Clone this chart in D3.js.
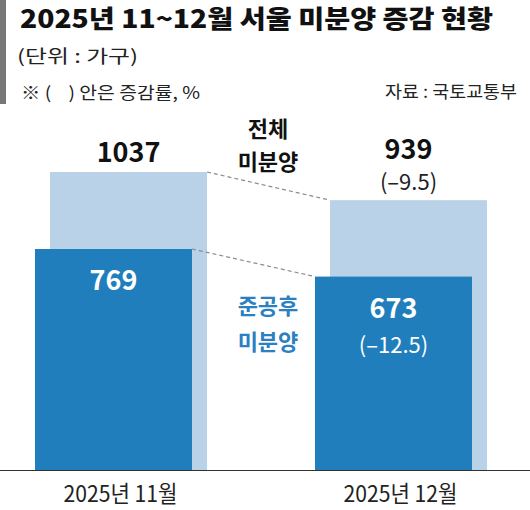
<!DOCTYPE html>
<html>
<head>
<meta charset="utf-8">
<script src="https://cdn.jsdelivr.net/npm/d3@7"></script>
<style>
  html, body { margin: 0; padding: 0; background: #fff; }
  svg { display: block; }
  text { font-family: "Liberation Sans Narrow", "Noto Sans CJK KR", sans-serif; }
  .kr { font-family: "Noto Sans CJK KR", sans-serif; }
</style>
</head>
<body>
<svg id="chart" width="530" height="510"></svg>
<script>
"use strict";

// data
var months = ["2025년 11월", "2025년 12월"];
var total = [1037, 939];          // 전체 미분양
var completed = [769, 673];       // 준공후 미분양
var totalChange = [null, "(–9.5)"];
var completedChange = [null, "(–12.5)"];

var W = 530, H = 510;
var base = 470;
var barW = 157;
var lightOff = 15;

var svg = d3.select('#chart');

var x = d3.scalePoint()
	.domain(months)
	.range([113.5, 393.5]);

var y = d3.scaleLinear()
	.domain([0, d3.max(total)])
	.range([base, 172]);

// header
svg.append('rect').attr('x', 0).attr('y', 0).attr('width', 6).attr('height', 104).attr('fill', '#777');

svg.append('text')
	.attr('class', 'kr')
	.attr('x', 20).attr('y', 28)
	.attr('font-size', 25).attr('font-weight', 900).attr('fill', '#111')
	.attr('textLength', 473).attr('lengthAdjust', 'spacingAndGlyphs')
	.text('2025년 11~12월 서울 미분양 증감 현황');

svg.append('text')
	.attr('class', 'kr')
	.attr('x', 17).attr('y', 63)
	.attr('font-size', 18).attr('fill', '#222')
	.attr('textLength', 121).attr('lengthAdjust', 'spacingAndGlyphs')
	.text('(단위 : 가구)');

svg.append('text')
	.attr('class', 'kr')
	.attr('x', 21).attr('y', 99)
	.attr('font-size', 17).attr('fill', '#222')
	.style('white-space', 'pre')
	.attr('textLength', 179).attr('lengthAdjust', 'spacingAndGlyphs')
	.text('※ (    ) 안은 증감률, %');

svg.append('text')
	.attr('class', 'kr')
	.attr('x', 517).attr('y', 98)
	.attr('text-anchor', 'end')
	.attr('font-size', 17).attr('fill', '#222')
	.attr('textLength', 132).attr('lengthAdjust', 'spacingAndGlyphs')
	.text('자료 : 국토교통부');

// bars
var rows = months.map(function(m, i){
	return {m: m, total: total[i], comp: completed[i], tc: totalChange[i], cc: completedChange[i]};
});

svg.selectAll('.light').data(rows).enter().append('rect')
	.attr('class', 'light')
	.attr('x', function(d){ return x(d.m) + lightOff - barW/2; })
	.attr('y', function(d){ return y(d.total); })
	.attr('width', barW)
	.attr('height', function(d){ return base - y(d.total); })
	.attr('fill', '#b9d2e7');

svg.selectAll('.dark').data(rows).enter().append('rect')
	.attr('class', 'dark')
	.attr('x', function(d){ return x(d.m) - barW/2; })
	.attr('y', function(d){ return y(d.comp); })
	.attr('width', barW)
	.attr('height', function(d){ return base - y(d.comp); })
	.attr('fill', '#1f7ebb');

// dashed connectors
function connector(key, off) {
	svg.append('line')
		.attr('x1', x(months[0]) + off + barW/2).attr('y1', y(rows[0][key]))
		.attr('x2', x(months[1]) + off - barW/2).attr('y2', y(rows[1][key]))
		.attr('stroke', '#8c8c8c').attr('stroke-width', 1.2)
		.attr('stroke-dasharray', '4,3');
}
connector('total', lightOff);
connector('comp', 0);

// axis baseline + labels
svg.append('line')
	.attr('x1', 0).attr('x2', W).attr('y1', base + 0.5).attr('y2', base + 0.5)
	.attr('stroke', '#333').attr('stroke-width', 1);

svg.selectAll('.xlab').data(months).enter().append('text')
	.attr('class', 'xlab')
	.attr('x', function(d){ return x(d) + 7; })
	.attr('y', 502)
	.attr('text-anchor', 'middle')
	.attr('font-size', 23).attr('fill', '#222')
	.attr('textLength', 114).attr('lengthAdjust', 'spacingAndGlyphs')
	.text(function(d){ return d; });

// value labels: total
rows.forEach(function(d){
	var cx = x(d.m) + lightOff;
	var top = y(d.total);
	if (d.tc) {
		svg.append('text').attr('x', cx).attr('y', top - 41).attr('text-anchor', 'middle')
			.attr('font-size', 27).attr('font-weight', 700).attr('fill', '#111').text(d.total);
		svg.append('text').attr('x', cx).attr('y', top - 10).attr('text-anchor', 'middle')
			.attr('font-size', 22).attr('fill', '#222').text(d.tc);
	} else {
		svg.append('text').attr('x', cx).attr('y', top - 10).attr('text-anchor', 'middle')
			.attr('font-size', 27).attr('font-weight', 700).attr('fill', '#111').text(d.total);
	}
});

// value labels: completed (inside dark bars)
rows.forEach(function(d){
	var cx = x(d.m);
	var top = y(d.comp);
	svg.append('text').attr('x', cx).attr('y', top + 41).attr('text-anchor', 'middle')
		.attr('font-size', 27).attr('font-weight', 700).attr('fill', '#fff').text(d.comp);
	if (d.cc) {
		svg.append('text').attr('x', cx).attr('y', top + 76).attr('text-anchor', 'middle')
			.attr('font-size', 22).attr('fill', '#fff').text(d.cc);
	}
});

// series names in the gap
var midX = 268;
[['전체', 137], ['미분양', 170]].forEach(function(t){
	svg.append('text').attr('class', 'kr').attr('x', midX).attr('y', t[1])
		.attr('text-anchor', 'middle').attr('font-size', 22).attr('font-weight', 700)
		.attr('fill', '#111').text(t[0]);
});
[['준공후', 314], ['미분양', 350]].forEach(function(t){
	svg.append('text').attr('class', 'kr').attr('x', midX).attr('y', t[1])
		.attr('text-anchor', 'middle').attr('font-size', 22).attr('font-weight', 700)
		.attr('fill', '#2a80c0').text(t[0]);
});
</script>
</body>
</html>
